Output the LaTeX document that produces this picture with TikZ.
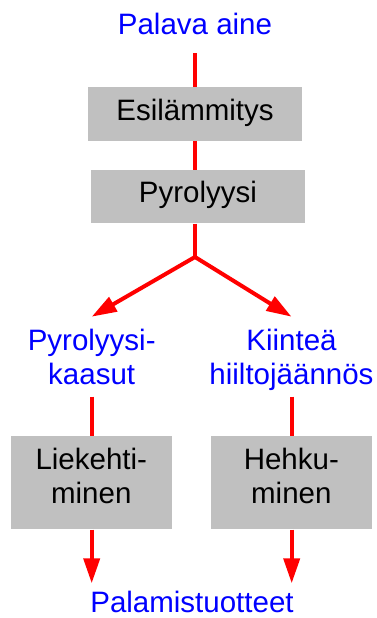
\documentclass[tikz,border=0pt]{standalone}
\usepackage{fontspec}
\setmainfont{Liberation Sans}
\usetikzlibrary{arrows.meta}
\definecolor{boxgray}{RGB}{192,192,192}
\definecolor{flowred}{RGB}{255,0,0}
\definecolor{textblue}{RGB}{0,0,255}
\begin{document}
\begin{tikzpicture}[x=1pt,y=-1pt,
  every node/.style={font=\fontsize{29.5}{34}\selectfont, inner sep=0pt},
  lbl/.style={text=textblue, align=center},
  procbox/.style={fill=boxgray, align=center, text=black},
  stagebox/.style={procbox, minimum width=214pt, minimum height=53.3pt, text height=21pt, text depth=9pt},
  modebox/.style={procbox, minimum width=160.7pt, minimum height=93.3pt, text depth=14pt},
  flow/.style={draw=flowred, line width=4pt},
  flowarrow/.style={flow, -{Triangle[length=25pt,width=16pt]}}]
\useasboundingbox (0,0) rectangle (376,618);

% start and end labels
\node[lbl, anchor=base] (fuel) at (195,35) {Palava aine};
\node[lbl, anchor=base] (prod) at (192,612.3) {Palamistuotteet};

% first stage boxes
\node[stagebox] (preheat) at (195,114) {Esilämmitys};
\node[stagebox] (pyro) at (198,196.7) {Pyrolyysi};

% branch point
\coordinate (split) at (195,257);

% intermediate products
\node[lbl, anchor=north] (gas) at (91.7,329) {Pyrolyysi-\\kaasut};
\node[lbl, anchor=north] (char) at (291.5,329) {Kiinteä\\hiiltojäännös};

% combustion modes
\node[modebox] (flame) at (91.3,482.7) {Liekehti-\\minen};
\node[modebox] (glow) at (291.3,482.7) {Hehku-\\minen};

% connector ends next to the text labels
\coordinate (fuelend) at ([yshift=-18.3pt]fuel.base);
\coordinate (gastop) at ([yshift=12.3pt]gas.north);
\coordinate (chartop) at ([yshift=12.3pt]char.north);
\coordinate (gasbot) at (91.7,396.7);
\coordinate (charbot) at (291.7,396.7);
\coordinate (flameend) at (91.7,583.3);
\coordinate (glowend) at (291.7,583.3);

% flow lines
\draw[flow] (fuelend) -- (fuelend |- preheat.north);
\draw[flow] (preheat.south) -- (preheat.south |- pyro.north);
\draw[flow] (preheat.south |- pyro.south) -- (split);
\draw[flowarrow] (split) -- (gastop);
\draw[flowarrow] (split) -- (chartop);
\draw[flow] (gasbot) -- (gasbot |- flame.north);
\draw[flow] (charbot) -- (charbot |- glow.north);
\draw[flowarrow] (gasbot |- flame.south) -- (flameend);
\draw[flowarrow] (charbot |- glow.south) -- (glowend);
\end{tikzpicture}
\end{document}
